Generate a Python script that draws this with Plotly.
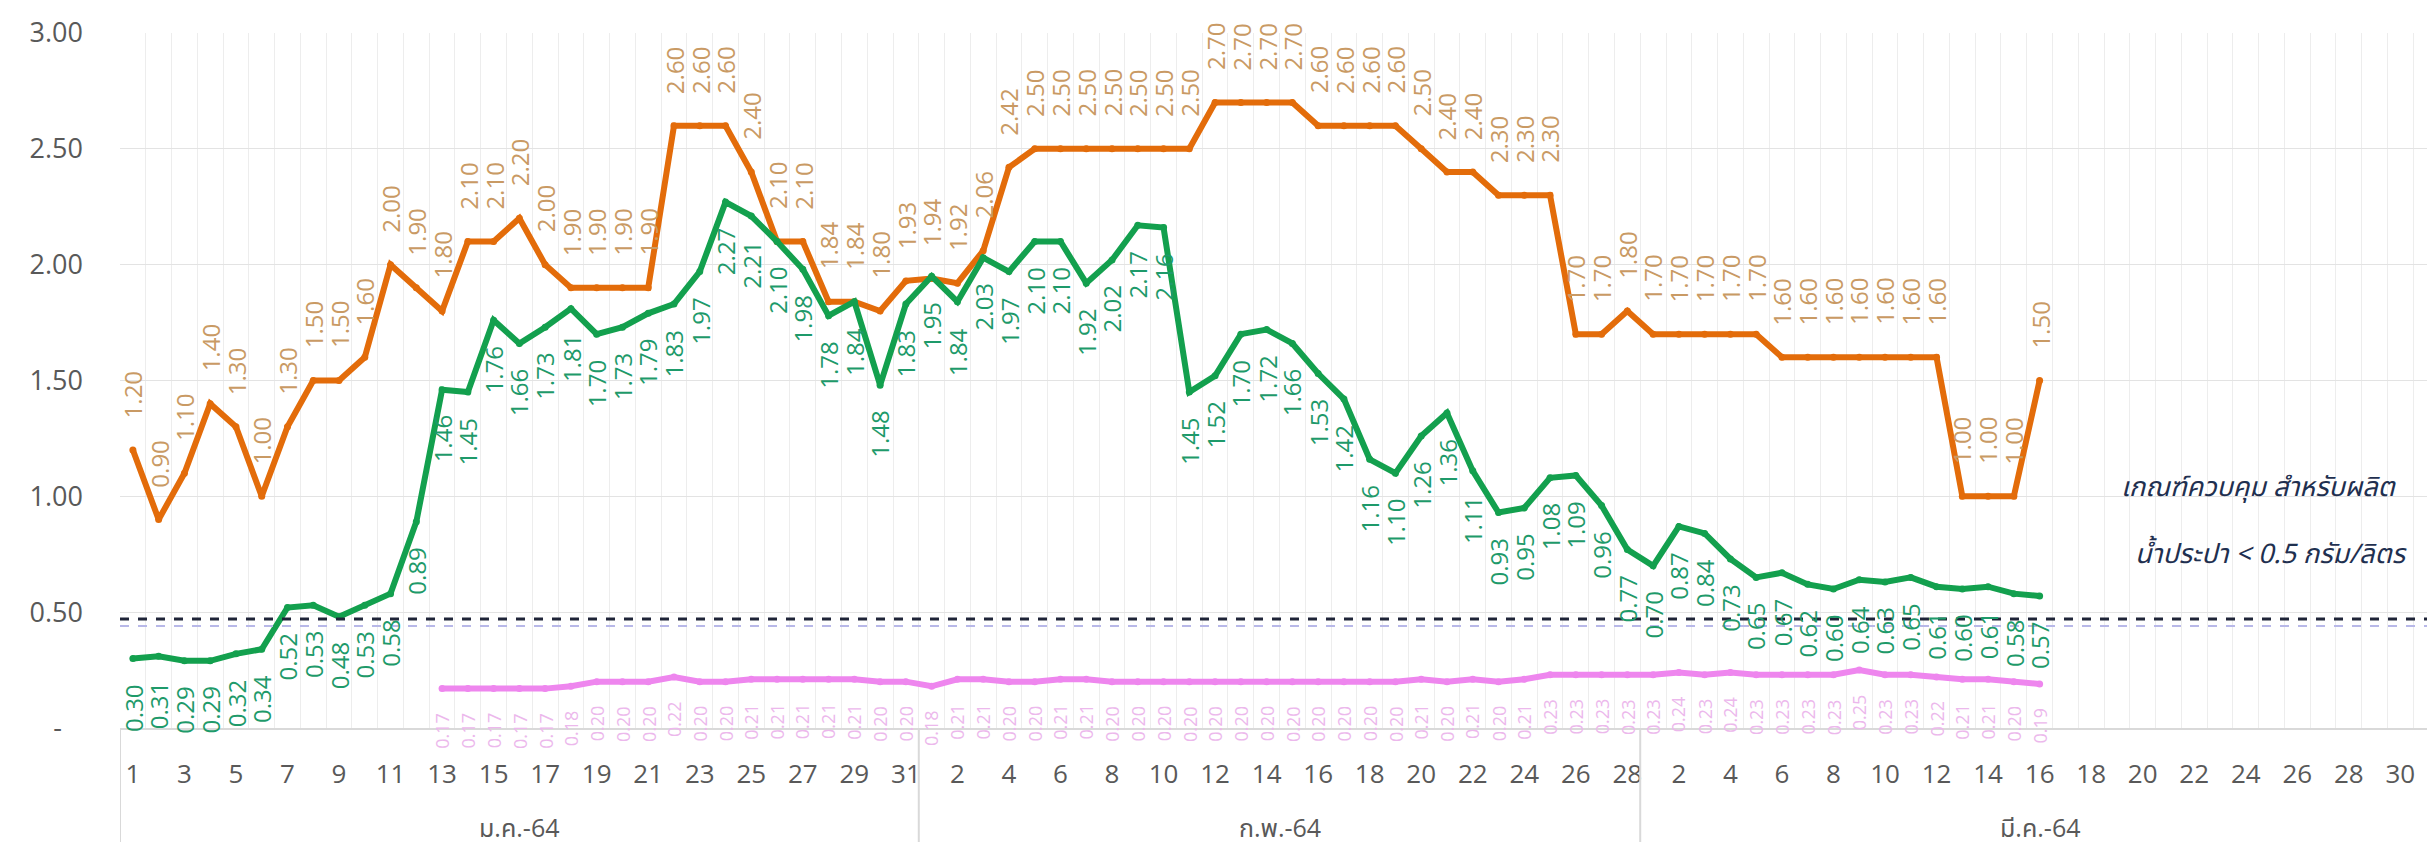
import plotly.graph_objects as go

# months shown on the axis (Thai Buddhist year 2564)
month_names = ["ม.ค.-64", "ก.พ.-64", "มี.ค.-64"]
month_days = [31, 28, 31]

# orange series, 1 Jan - 16 Mar
orange = [1.20, 0.90, 1.10, 1.40, 1.30, 1.00, 1.30, 1.50, 1.50, 1.60, 2.00, 1.90, 1.80, 2.10, 2.10, 2.20,
          2.00, 1.90, 1.90, 1.90, 1.90, 2.60, 2.60, 2.60, 2.40, 2.10, 2.10, 1.84, 1.84, 1.80, 1.93,
          1.94, 1.92, 2.06, 2.42, 2.50, 2.50, 2.50, 2.50, 2.50, 2.50, 2.50, 2.70, 2.70, 2.70, 2.70,
          2.60, 2.60, 2.60, 2.60, 2.50, 2.40, 2.40, 2.30, 2.30, 2.30, 1.70, 1.70, 1.80,
          1.70, 1.70, 1.70, 1.70, 1.70, 1.60, 1.60, 1.60, 1.60, 1.60, 1.60, 1.60, 1.00, 1.00, 1.00, 1.50]

# green series, 1 Jan - 16 Mar
green = [0.30, 0.31, 0.29, 0.29, 0.32, 0.34, 0.52, 0.53, 0.48, 0.53, 0.58, 0.89, 1.46, 1.45, 1.76, 1.66,
         1.73, 1.81, 1.70, 1.73, 1.79, 1.83, 1.97, 2.27, 2.21, 2.10, 1.98, 1.78, 1.84, 1.48, 1.83,
         1.95, 1.84, 2.03, 1.97, 2.10, 2.10, 1.92, 2.02, 2.17, 2.16, 1.45, 1.52, 1.70, 1.72, 1.66,
         1.53, 1.42, 1.16, 1.10, 1.26, 1.36, 1.11, 0.93, 0.95, 1.08, 1.09, 0.96, 0.77,
         0.70, 0.87, 0.84, 0.73, 0.65, 0.67, 0.62, 0.60, 0.64, 0.63, 0.65, 0.61, 0.60, 0.61, 0.58, 0.57]

# pink series, 13 Jan - 16 Mar
pink_start = 12
pink = [0.17, 0.17, 0.17, 0.17, 0.17, 0.18, 0.20, 0.20, 0.20, 0.22, 0.20, 0.20, 0.21, 0.21, 0.21, 0.21,
        0.21, 0.20, 0.20,
        0.18, 0.21, 0.21, 0.20, 0.20, 0.21, 0.21, 0.20, 0.20, 0.20, 0.20, 0.20, 0.20, 0.20, 0.20,
        0.20, 0.20, 0.20, 0.20, 0.21, 0.20, 0.21, 0.20, 0.21, 0.23, 0.23, 0.23, 0.23,
        0.23, 0.24, 0.23, 0.24, 0.23, 0.23, 0.23, 0.23, 0.25, 0.23, 0.23, 0.22, 0.21, 0.21, 0.20, 0.19]

threshold = 0.47
threshold_text = ["เกณฑ์ควบคุม สำหรับผลิต", "น้ำประปา < 0.5 กรัม/ลิตร"]

y_ticks = [0, 0.5, 1.0, 1.5, 2.0, 2.5, 3.0]
y_ticktext = ["-\u00a0\u00a0\u00a0", "0.50", "1.00", "1.50", "2.00", "2.50", "3.00"]

FONT = "Open Sans, Noto Sans Thai, Tahoma, sans-serif"
THAI = "Noto Sans Thai, Open Sans, sans-serif"
ORANGE = "#E36C0A"
GREEN = "#13A04E"
PINK = "#EE86EE"

days = [d for n in month_days for d in range(1, n + 1)]
x_all = list(range(len(days)))

fig = go.Figure()
fig.add_trace(go.Scatter(x=x_all[:len(orange)], y=orange, mode="lines+markers",
                         line=dict(color=ORANGE, width=6), marker=dict(size=7, color=ORANGE)))
fig.add_trace(go.Scatter(x=x_all[:len(green)], y=green, mode="lines+markers",
                         line=dict(color=GREEN, width=6), marker=dict(size=7, color=GREEN)))
fig.add_trace(go.Scatter(x=x_all[pink_start:pink_start + len(pink)], y=pink, mode="lines+markers",
                         line=dict(color=PINK, width=6), marker=dict(size=7, color=PINK)))

anns = []
for i, v in enumerate(orange):
    anns.append(dict(x=i, y=v, text=f"{v:.2f}", textangle=-90, showarrow=False,
                     xanchor="center", yanchor="bottom", yshift=30,
                     font=dict(family=FONT, size=24, color="#C99A64")))
for i, v in enumerate(green):
    anns.append(dict(x=i, y=v, text=f"{v:.2f}", textangle=-90, showarrow=False,
                     xanchor="center", yanchor="top", yshift=-24,
                     font=dict(family=FONT, size=24, color="#1E9A6A")))
for i, v in enumerate(pink):
    anns.append(dict(x=pink_start + i, y=v, text=f"{v:.2f}", textangle=-90, showarrow=False,
                     xanchor="center", yanchor="top", yshift=-22,
                     font=dict(family=FONT, size=18, color="#ECB8EC")))

# month labels and separators below the axis
shapes = []
start = 0
bottom = -122 / 695
shapes.append(dict(type="line", xref="x", yref="paper", x0=-0.5, x1=-0.5, y0=0, y1=bottom,
                   line=dict(color="#D9D9D9", width=2)))
for name, n in zip(month_names, month_days):
    anns.append(dict(x=start + (n - 1) / 2, y=-0.143, xref="x", yref="paper", text=name,
                     showarrow=False, xanchor="center", yanchor="middle",
                     font=dict(family=FONT, size=25, color="#595959")))
    start += n
    shapes.append(dict(type="line", xref="x", yref="paper", x0=start - 0.5, x1=start - 0.5,
                       y0=0, y1=bottom, line=dict(color="#D9D9D9", width=2)))

# threshold line
shapes.append(dict(type="line", xref="paper", yref="y", x0=0, x1=1, y0=threshold - 0.03,
                   y1=threshold - 0.03, line=dict(color="#B8B8E8", width=2, dash="dash")))
shapes.append(dict(type="line", xref="paper", yref="y", x0=0, x1=1, y0=threshold, y1=threshold,
                   line=dict(color="#1F2438", width=3, dash="dash")))
for k, t in enumerate(threshold_text):
    anns.append(dict(x=0.862 + 0.006 * k, y=1.04 - 0.29 * k, xref="paper", yref="y",
                     text=f"<i>{t}</i>", showarrow=False, xanchor="left", yanchor="middle",
                     font=dict(family=THAI, size=27, color="#1F3050")))

fig.update_layout(
    width=2435, height=842,
    margin=dict(l=112, r=4, t=25, b=122),
    paper_bgcolor="white", plot_bgcolor="white",
    showlegend=False,
    annotations=anns, shapes=shapes,
    xaxis=dict(range=[-0.5, 89.5], tickmode="array", tickvals=x_all[::2],
               ticktext=[str(d) for d in days[::2]], showgrid=False, zeroline=False,
               showline=True, linecolor="#D9D9D9", linewidth=2, ticks="",
               ticklabelstandoff=22, tickfont=dict(family=FONT, size=26, color="#595959"),
               minor=dict(tickmode="linear", tick0=-0.5, dtick=1, showgrid=True,
                          gridcolor="#EDEDED", gridwidth=1)),
    yaxis=dict(range=[0, 3], tickmode="array", tickvals=y_ticks, ticktext=y_ticktext,
               showgrid=True, gridcolor="#E3E3E3", gridwidth=1, zeroline=False,
               ticks="", ticklabelstandoff=36,
               tickfont=dict(family=FONT, size=27, color="#595959")),
)

fig.write_html("out.html")
